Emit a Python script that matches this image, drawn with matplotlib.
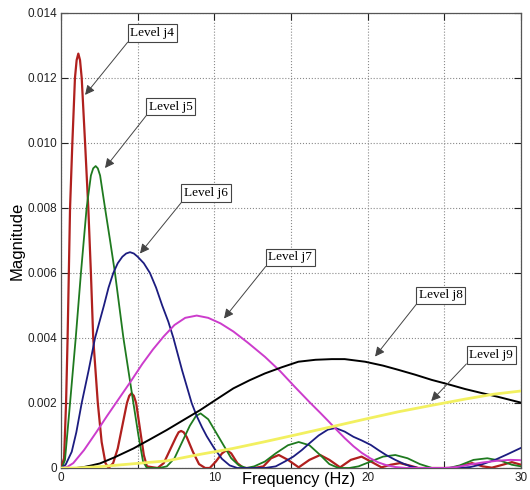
import matplotlib.pyplot as plt

# values (frequency in Hz, magnitude in 1e-3)
j4_f = [0, 0.2, 0.33, 0.43, 0.59, 0.74, 0.91, 1.02, 1.13, 1.24, 1.35, 1.57, 1.78, 1.95, 2.1, 2.4, 2.65, 2.9, 3.1,
        3.4, 3.7, 4.0, 4.3, 4.45, 4.6, 4.75, 4.9, 5.15, 5.4, 5.6, 6.3, 6.7, 7.1, 7.5, 7.67, 7.83, 8.0, 8.2, 8.6,
        9.0, 9.4, 9.7, 10.1, 10.5, 10.8, 11.1, 11.5, 11.9, 12.6, 13.2, 13.7, 14.2, 14.8, 15.5, 16.2, 16.9,
        17.5, 18.2, 18.9, 19.6, 20.2, 20.9, 21.5, 22.1, 22.7, 23.3, 25.5, 26.2, 26.8, 27.5, 28.1, 28.8,
        29.4, 30]
j4_m = [0, 0.3, 2.0, 4.0, 8.0, 10.0, 12.0, 12.55, 12.75, 12.55, 12.0, 10.0, 8.0, 6.0, 4.0, 2.0, 0.8, 0.15, 0.0,
        0.15, 0.6, 1.3, 2.0, 2.22, 2.3, 2.22, 2.0, 1.2, 0.4, 0.05, 0.0, 0.15, 0.55, 0.95, 1.1, 1.14, 1.1, 0.95, 0.5,
        0.12, 0.0, 0.0, 0.2, 0.45, 0.55, 0.45, 0.15, 0.0, 0.0, 0.05, 0.3, 0.4, 0.25, 0.02, 0.25, 0.4,
        0.25, 0.02, 0.25, 0.35, 0.2, 0.02, 0.1, 0.15, 0.08, 0.0, 0.0, 0.08, 0.15, 0.05, 0.01, 0.1,
        0.18, 0.1]

j5_f = [0, 0.1, 0.26, 0.59, 0.96, 1.3, 1.67, 1.95, 2.1, 2.26, 2.4, 2.55, 2.87, 3.2, 3.52, 4.07, 4.72, 5.05,
        5.35, 5.6, 6.4, 6.9, 7.4, 7.9, 8.4, 8.8, 9.1, 9.6, 10.1, 10.6, 11.1, 11.6, 12.1, 12.6, 13.3, 14.0,
        14.8, 15.5, 16.2, 16.9, 17.5, 18.1, 18.8, 19.4, 20.2, 21.0, 21.8, 22.6, 23.4, 24.2, 25.3, 26.0,
        26.9, 27.8, 28.7, 29.4, 30]
j5_m = [0, 0.05, 0.25, 2.0, 4.0, 6.0, 8.0, 9.0, 9.22, 9.29, 9.22, 9.0, 8.0, 7.0, 6.0, 4.0, 2.0, 1.0,
        0.2, 0.0, 0.0, 0.05, 0.3, 0.8, 1.3, 1.6, 1.68, 1.5, 1.1, 0.7, 0.3, 0.08, 0.0, 0.05, 0.2, 0.45,
        0.7, 0.8, 0.7, 0.4, 0.12, 0.0, 0.0, 0.05, 0.2, 0.35, 0.4, 0.3, 0.12, 0.0, 0.0, 0.08,
        0.25, 0.3, 0.22, 0.1, 0.05]

j6_f = [0, 0.3, 0.7, 1.0, 1.35, 1.8, 2.22, 2.8, 3.1, 3.41, 3.7, 4.0, 4.25, 4.5, 4.75, 5.0, 5.4, 5.8, 6.2,
        6.6, 7.0, 7.33, 7.9, 8.52, 8.85, 9.2, 9.5, 10.0, 10.5, 11.0, 11.5, 13.3, 14.0, 14.6, 15.15, 15.7,
        16.2, 16.8, 17.4, 17.9, 18.5, 19.07, 19.6, 20.2, 20.7, 21.2, 21.8, 22.3, 22.8, 23.3, 26.0, 26.7,
        27.5, 28.3, 29.1, 30]
j6_m = [0, 0.1, 0.5, 1.1, 2.0, 3.0, 4.0, 5.0, 5.55, 6.0, 6.3, 6.5, 6.6, 6.64, 6.6, 6.5, 6.3, 6.0, 5.55,
        5.0, 4.5, 4.0, 3.0, 2.0, 1.6, 1.25, 0.98, 0.6, 0.28, 0.08, 0.0, 0.0, 0.05, 0.2, 0.35, 0.55,
        0.76, 1.0, 1.18, 1.23, 1.12, 0.96, 0.85, 0.71, 0.55, 0.4, 0.25, 0.14, 0.05, 0.0, 0.0, 0.03,
        0.12, 0.25, 0.42, 0.62]

j7_f = [0, 0.4, 0.8, 1.5, 2.3, 3.0, 3.8, 4.6, 5.3, 6.0, 6.7, 7.4, 8.1, 8.85, 9.6, 10.4, 11.24, 12.2, 13.3,
        14.29, 15.2, 16.2, 16.9, 17.5, 17.98, 18.5, 19.07, 19.6, 20.16, 20.7, 21.2, 21.8, 22.5, 25.0,
        25.8, 26.6, 27.5, 28.4, 29.3, 30]
j7_m = [0, 0.03, 0.15, 0.55, 1.1, 1.6, 2.15, 2.7, 3.2, 3.65, 4.05, 4.4, 4.62, 4.69, 4.62, 4.45, 4.2, 3.85, 3.42,
        2.98, 2.52, 2.03, 1.7, 1.41, 1.17, 0.92, 0.67, 0.47, 0.3, 0.17, 0.09, 0.03, 0.0, 0.0,
        0.03, 0.1, 0.17, 0.22, 0.25, 0.24]

j8_f = [0, 1.0, 1.5, 2.0, 2.54, 3.5, 4.72, 5.8, 6.9, 8.0, 9.07, 10.1, 11.24, 12.3, 13.3, 14.4, 15.48, 16.6,
        17.66, 18.5, 19.83, 21.0, 22.0, 23.1, 24.18, 25.3, 26.35, 27.4, 28.5, 30]
j8_m = [0, 0.0, 0.03, 0.08, 0.14, 0.33, 0.6, 0.88, 1.17, 1.48, 1.78, 2.1, 2.45, 2.7, 2.91, 3.1, 3.27, 3.33,
        3.35, 3.35, 3.27, 3.15, 3.02, 2.87, 2.71, 2.57, 2.43, 2.31, 2.19, 2.01]

j9_f = [0, 1.0, 2.5, 4.7, 6.9, 9.07, 11.2, 13.3, 15.5, 17.66, 19.8, 22.0, 24.2, 26.35, 28.2, 30]
j9_m = [0, 0.0, 0.04, 0.13, 0.22, 0.42, 0.6, 0.81, 1.04, 1.27, 1.5, 1.73, 1.93, 2.12, 2.27, 2.37]

levels = ['Level j4', 'Level j5', 'Level j6', 'Level j7', 'Level j8', 'Level j9']
# (arrow tip, label centre) in data units, magnitudes in 1e-3
tips = [(1.57, 11.48), (2.87, 9.23), (5.15, 6.6), (10.63, 4.6), (20.48, 3.43), (24.14, 2.06)]
label_pos = [(5.94, 13.38), (7.14, 11.12), (9.46, 8.46), (14.94, 6.48), (24.75, 5.31), (28.05, 3.48)]

fig = plt.figure(figsize=(5.3, 4.9), dpi=100)
ax = fig.add_axes([0.1151, 0.0449, 0.868, 0.9286])

series = [(j4_f, j4_m, '#b0201e', 1.6), (j5_f, j5_m, '#1f7a1f', 1.3), (j6_f, j6_m, '#1c1c80', 1.3),
          (j7_f, j7_m, '#cc3ccc', 1.4), (j8_f, j8_m, 'black', 1.4), (j9_f, j9_m, '#f2f060', 2.0)]
for f, m, c, lw in series:
    ax.plot(f, [v / 1000.0 for v in m], color=c, lw=lw, zorder=3)

for name, tip, pos in zip(levels, tips, label_pos):
    ax.annotate(name, xy=(tip[0], tip[1] / 1000.0), xytext=(pos[0], pos[1] / 1000.0),
                ha='center', va='center', fontsize=9.5, family='Liberation Serif',
                bbox=dict(boxstyle='square,pad=0.2', fc='white', ec='#444444', lw=0.8),
                arrowprops=dict(arrowstyle='-|>', color='#444444', lw=0.7, mutation_scale=14,
                                shrinkA=0, shrinkB=0, relpos=(0, 0)),
                zorder=5)

ax.set_xlim(0, 30)
ax.set_ylim(0, 0.014)
ax.set_xticks([0, 5, 10, 15, 20, 25, 30])
ax.set_xticklabels(['0', '', '10', '', '20', '', '30'])
ax.set_yticks([0, 0.002, 0.004, 0.006, 0.008, 0.010, 0.012, 0.014])
ax.set_yticklabels(['0', '0.002', '0.004', '0.006', '0.008', '0.010', '0.012', '0.014'])
ax.tick_params(direction='in', top=True, right=True, length=5, width=0.8, labelsize=8.5,
               colors='#222222', pad=3)
ax.grid(True, linestyle=':', color='#8a8a8a', lw=0.8)
for s in ax.spines.values():
    s.set_color('#555555')
    s.set_linewidth(0.9)

ax.set_xlabel('Frequency (Hz)', fontsize=11.8, family='Liberation Sans')
ax.xaxis.set_label_coords(0.516, -0.009)
ax.set_ylabel('Magnitude', fontsize=12, family='Liberation Sans', labelpad=2)
for t in ax.get_xticklabels() + ax.get_yticklabels():
    t.set_family('Liberation Sans')

fig.savefig('out.png', dpi=100)
